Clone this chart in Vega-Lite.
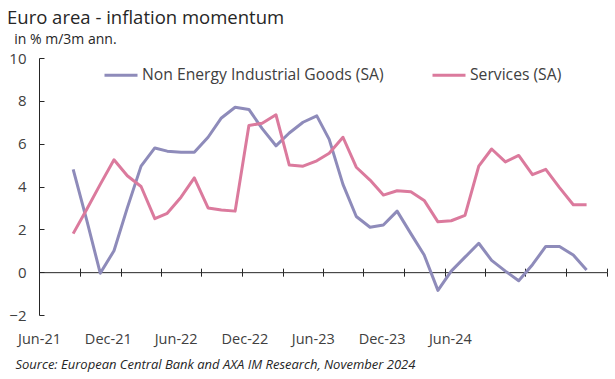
{
  "$schema": "https://vega.github.io/schema/vega-lite/v6.json",
  "autosize": {"type": "none"},
  "width": 568,
  "height": 257,
  "padding": {"left": 39, "top": 58, "right": 8, "bottom": 64},
  "background": "white",
  "config": {
    "view": {"stroke": null},
    "font": "Open Sans",
    "axis": {"labelFont": "Open Sans", "titleFont": "Open Sans", "labelColor": "#404040", "domainColor": "#262626", "tickColor": "#262626", "grid": false}
  },
  "title": {
    "text": "Euro area - inflation momentum",
    "subtitle": "\u200b\u00a0\u00a0in % m/3m ann.",
    "anchor": "start",
    "frame": "group",
    "dx": -32,
    "offset": 4,
    "font": "Open Sans",
    "fontSize": 18.5,
    "fontWeight": "normal",
    "color": "#262626",
    "subtitleFont": "Open Sans",
    "subtitleFontSize": 14,
    "subtitleColor": "#262626",
    "subtitlePadding": 6
  },
  "data": {
    "values": [
      {"date": "2021-08-01", "Non Energy Industrial Goods (SA)": 4.8, "Services (SA)": 1.8},
      {"date": "2021-09-01", "Non Energy Industrial Goods (SA)": 2.4, "Services (SA)": 2.95},
      {"date": "2021-10-01", "Non Energy Industrial Goods (SA)": -0.05, "Services (SA)": 4.1},
      {"date": "2021-11-01", "Non Energy Industrial Goods (SA)": 1.0, "Services (SA)": 5.25},
      {"date": "2021-12-01", "Non Energy Industrial Goods (SA)": 3.0, "Services (SA)": 4.5},
      {"date": "2022-01-01", "Non Energy Industrial Goods (SA)": 4.95, "Services (SA)": 4.0},
      {"date": "2022-02-01", "Non Energy Industrial Goods (SA)": 5.8, "Services (SA)": 2.5},
      {"date": "2022-03-01", "Non Energy Industrial Goods (SA)": 5.65, "Services (SA)": 2.75},
      {"date": "2022-04-01", "Non Energy Industrial Goods (SA)": 5.6, "Services (SA)": 3.5},
      {"date": "2022-05-01", "Non Energy Industrial Goods (SA)": 5.6, "Services (SA)": 4.4},
      {"date": "2022-06-01", "Non Energy Industrial Goods (SA)": 6.3, "Services (SA)": 3.0},
      {"date": "2022-07-01", "Non Energy Industrial Goods (SA)": 7.2, "Services (SA)": 2.9},
      {"date": "2022-08-01", "Non Energy Industrial Goods (SA)": 7.7, "Services (SA)": 2.85},
      {"date": "2022-09-01", "Non Energy Industrial Goods (SA)": 7.6, "Services (SA)": 6.85},
      {"date": "2022-10-01", "Non Energy Industrial Goods (SA)": 6.7, "Services (SA)": 6.95},
      {"date": "2022-11-01", "Non Energy Industrial Goods (SA)": 5.9, "Services (SA)": 7.35},
      {"date": "2022-12-01", "Non Energy Industrial Goods (SA)": 6.5, "Services (SA)": 5.0},
      {"date": "2023-01-01", "Non Energy Industrial Goods (SA)": 7.0, "Services (SA)": 4.95},
      {"date": "2023-02-01", "Non Energy Industrial Goods (SA)": 7.3, "Services (SA)": 5.2},
      {"date": "2023-03-01", "Non Energy Industrial Goods (SA)": 6.2, "Services (SA)": 5.55},
      {"date": "2023-04-01", "Non Energy Industrial Goods (SA)": 4.1, "Services (SA)": 6.3},
      {"date": "2023-05-01", "Non Energy Industrial Goods (SA)": 2.6, "Services (SA)": 4.9},
      {"date": "2023-06-01", "Non Energy Industrial Goods (SA)": 2.1, "Services (SA)": 4.3},
      {"date": "2023-07-01", "Non Energy Industrial Goods (SA)": 2.2, "Services (SA)": 3.6},
      {"date": "2023-08-01", "Non Energy Industrial Goods (SA)": 2.85, "Services (SA)": 3.8},
      {"date": "2023-09-01", "Non Energy Industrial Goods (SA)": 1.8, "Services (SA)": 3.75},
      {"date": "2023-10-01", "Non Energy Industrial Goods (SA)": 0.8, "Services (SA)": 3.35},
      {"date": "2023-11-01", "Non Energy Industrial Goods (SA)": -0.85, "Services (SA)": 2.35},
      {"date": "2023-12-01", "Non Energy Industrial Goods (SA)": 0.05, "Services (SA)": 2.4},
      {"date": "2024-01-01", "Non Energy Industrial Goods (SA)": 0.7, "Services (SA)": 2.65},
      {"date": "2024-02-01", "Non Energy Industrial Goods (SA)": 1.35, "Services (SA)": 4.95},
      {"date": "2024-03-01", "Non Energy Industrial Goods (SA)": 0.55, "Services (SA)": 5.75},
      {"date": "2024-04-01", "Non Energy Industrial Goods (SA)": 0.05, "Services (SA)": 5.15},
      {"date": "2024-05-01", "Non Energy Industrial Goods (SA)": -0.4, "Services (SA)": 5.45},
      {"date": "2024-06-01", "Non Energy Industrial Goods (SA)": 0.35, "Services (SA)": 4.55},
      {"date": "2024-07-01", "Non Energy Industrial Goods (SA)": 1.2, "Services (SA)": 4.8},
      {"date": "2024-08-01", "Non Energy Industrial Goods (SA)": 1.2, "Services (SA)": 3.95},
      {"date": "2024-09-01", "Non Energy Industrial Goods (SA)": 0.8, "Services (SA)": 3.15},
      {"date": "2024-10-01", "Non Energy Industrial Goods (SA)": 0.1, "Services (SA)": 3.15}
    ]
  },
  "transform": [
    {"fold": ["Non Energy Industrial Goods (SA)", "Services (SA)"], "as": ["series", "value"]}
  ],
  "resolve": {"axis": {"x": "independent"}},
  "layer": [
    {
      "mark": {"type": "line", "strokeWidth": 3, "strokeJoin": "round"},
      "encoding": {
        "x": {
          "field": "date", "type": "temporal",
          "scale": {"domain": [{"year": 2021, "month": 5, "date": 16, "utc": true}, {"year": 2024, "month": 11, "date": 16, "utc": true}]},
          "axis": {
            "orient": "bottom", "offset": -42.83, "title": null, "labels": false, "tickSize": 4, "domain": true,
            "values": [
              {"year": 2021, "month": 5, "date": 16, "utc": true}, {"year": 2021, "month": 8, "date": 16, "utc": true},
              {"year": 2021, "month": 11, "date": 16, "utc": true}, {"year": 2022, "month": 2, "date": 16, "utc": true},
              {"year": 2022, "month": 5, "date": 16, "utc": true}, {"year": 2022, "month": 8, "date": 16, "utc": true},
              {"year": 2022, "month": 11, "date": 16, "utc": true}, {"year": 2023, "month": 2, "date": 16, "utc": true},
              {"year": 2023, "month": 5, "date": 16, "utc": true}, {"year": 2023, "month": 8, "date": 16, "utc": true},
              {"year": 2023, "month": 11, "date": 16, "utc": true}, {"year": 2024, "month": 2, "date": 16, "utc": true},
              {"year": 2024, "month": 5, "date": 16, "utc": true}, {"year": 2024, "month": 8, "date": 16, "utc": true},
              {"year": 2024, "month": 11, "date": 16, "utc": true}
            ]
          }
        },
        "y": {
          "field": "value", "type": "quantitative",
          "scale": {"domain": [-2, 10], "nice": false, "zero": false},
          "axis": {"values": [-2, 0, 2, 4, 6, 8, 10], "title": null, "tickSize": -5, "labelPadding": 18, "labelFontSize": 15, "labelColor": "#404040"}
        },
        "color": {
          "field": "series", "type": "nominal",
          "scale": {"domain": ["Non Energy Industrial Goods (SA)", "Services (SA)"], "range": ["#8E8BBA", "#DB7A9D"]},
          "legend": {
            "orient": "none", "legendX": 64, "legendY": -1, "direction": "horizontal", "title": null,
            "symbolType": "stroke", "symbolSize": 1089, "symbolStrokeWidth": 3, "labelLimit": 0,
            "labelFont": "Open Sans", "labelFontSize": 15.7, "labelColor": "#404040", "labelOffset": 3, "columnPadding": 42
          }
        }
      }
    },
    {
      "mark": {"type": "point", "opacity": 0},
      "encoding": {
        "x": {
          "field": "date", "type": "temporal",
          "axis": {
            "orient": "bottom", "offset": -42.83, "title": null, "labels": false, "tickSize": -4, "domain": false,
            "values": [
              {"year": 2021, "month": 5, "date": 16, "utc": true}, {"year": 2021, "month": 8, "date": 16, "utc": true},
              {"year": 2021, "month": 11, "date": 16, "utc": true}, {"year": 2022, "month": 2, "date": 16, "utc": true},
              {"year": 2022, "month": 5, "date": 16, "utc": true}, {"year": 2022, "month": 8, "date": 16, "utc": true},
              {"year": 2022, "month": 11, "date": 16, "utc": true}, {"year": 2023, "month": 2, "date": 16, "utc": true},
              {"year": 2023, "month": 5, "date": 16, "utc": true}, {"year": 2023, "month": 8, "date": 16, "utc": true},
              {"year": 2023, "month": 11, "date": 16, "utc": true}, {"year": 2024, "month": 2, "date": 16, "utc": true},
              {"year": 2024, "month": 5, "date": 16, "utc": true}, {"year": 2024, "month": 8, "date": 16, "utc": true},
              {"year": 2024, "month": 11, "date": 16, "utc": true}
            ]
          }
        },
        "y": {"field": "value", "type": "quantitative"}
      }
    },
    {
      "mark": {"type": "point", "opacity": 0},
      "encoding": {
        "x": {
          "field": "date", "type": "temporal",
          "axis": {
            "orient": "bottom", "offset": 0, "ticks": false, "domain": false, "labelFlush": false, "labelOverlap": false,
            "labelFontSize": 14.5, "labelColor": "#404040", "labelPadding": 17, "labelAlign": "center",
            "labelExpr": "['Jun-21','Dec-21','Jun-22','Dec-22','Jun-23','Dec-23','Jun-24'][round(datum.index*6)]",
            "values": [
              {"year": 2021, "month": 5, "date": 16, "utc": true}, {"year": 2021, "month": 10, "date": 18, "utc": true},
              {"year": 2022, "month": 3, "date": 20, "utc": true}, {"year": 2022, "month": 8, "date": 22, "utc": true},
              {"year": 2023, "month": 1, "date": 23, "utc": true}, {"year": 2023, "month": 6, "date": 27, "utc": true},
              {"year": 2023, "month": 11, "date": 28, "utc": true}
            ],
            "title": "Source: European Central Bank and AXA IM Research, November 2024",
            "titleFont": "Open Sans", "titleFontSize": 13, "titleFontStyle": "italic", "titleFontWeight": "normal",
            "titleColor": "#262626", "titleAnchor": "start", "titleAlign": "left", "titleBaseline": "alphabetic",
            "titleX": -24, "titleY": 53
          }
        },
        "y": {"field": "value", "type": "quantitative"}
      }
    }
  ]
}
